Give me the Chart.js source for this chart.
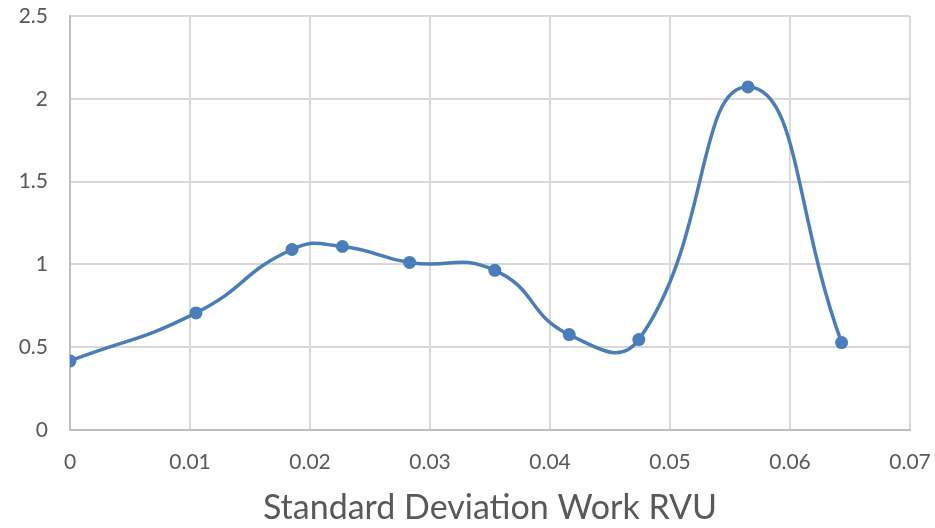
<!DOCTYPE html>
<html>
<head>
<meta charset="utf-8">
<script src="https://cdn.jsdelivr.net/npm/chart.js"></script>
<style>
  html, body { margin: 0; padding: 0; background: #fff; }
  #wrap { width: 935px; height: 528px; }
</style>
</head>
<body>
<div id="wrap"><canvas id="myChart" width="935" height="528"></canvas></div>
<script>
    // valores
    var xValues = [0, 0.0105, 0.0185, 0.0227, 0.0283, 0.0354, 0.0416, 0.0474, 0.0565, 0.0643];
    var yValues = [0.417, 0.707, 1.09, 1.108, 1.012, 0.964, 0.576, 0.546, 2.072, 0.528];
    var xTickLabels = ['0', '0.01', '0.02', '0.03', '0.04', '0.05', '0.06', '0.07'];
    var yTickLabels = ['0', '0.5', '1', '1.5', '2', '2.5'];
    var xTitle = 'Standard Deviation Work RVU';

    var points = xValues.map(function (x, i) { return { x: x, y: yValues[i] }; });

    var blue = '#4a7ebb';
    var grid = '#d9d9d9';
    var txt = '#595959';
    var fam = 'Lato, "Open Sans", sans-serif';

    var ctx = document.getElementById('myChart').getContext('2d');
    var myChart = new Chart(ctx, {
        type: 'scatter',
        data: {
            datasets: [{
                label: 'Datos',
                data: points,
                showLine: true,
                tension: 0.5,
                borderColor: blue,
                borderWidth: 3.5,
                backgroundColor: blue,
                pointBackgroundColor: blue,
                pointBorderColor: blue,
                pointRadius: 6.5,
                pointBorderWidth: 0
            }]
        },
        options: {
            responsive: false,
            animation: false,
            layout: { padding: { top: 16, right: 25, left: 0, bottom: 0 } },
            plugins: {
                legend: { display: false },
                tooltip: { enabled: false }
            },
            scales: {
                x: {
                    type: 'linear',
                    min: 0,
                    max: 0.07,
                    ticks: {
                        stepSize: 0.01,
                        color: txt,
                        font: { family: fam, size: 21 },
                        padding: 20,
                        maxRotation: 0,
                        callback: function (v, i) { return xTickLabels[i]; }
                    },
                    grid: { color: grid, lineWidth: 2, drawTicks: false },
                    border: { color: '#bfbfbf', width: 2 },
                    title: {
                        display: true,
                        text: xTitle,
                        color: txt,
                        font: { family: fam, size: 34 },
                        padding: { top: 8, bottom: 0 }
                    },
                    afterFit: function (s) {
                        s.height = 98;
                        s.paddingLeft = 0;
                        s.paddingRight = 0;
                    }
                },
                y: {
                    min: 0,
                    max: 2.5,
                    ticks: {
                        stepSize: 0.5,
                        color: txt,
                        font: { family: fam, size: 21 },
                        padding: 22,
                        callback: function (v, i) { return yTickLabels[i]; }
                    },
                    grid: { color: grid, lineWidth: 2, drawTicks: false },
                    border: { color: '#bfbfbf', width: 2 },
                    afterFit: function (s) {
                        s.width = 70;
                        s.paddingTop = 0;
                        s.paddingBottom = 0;
                    }
                }
            }
        }
    });
</script>
</body>
</html>
